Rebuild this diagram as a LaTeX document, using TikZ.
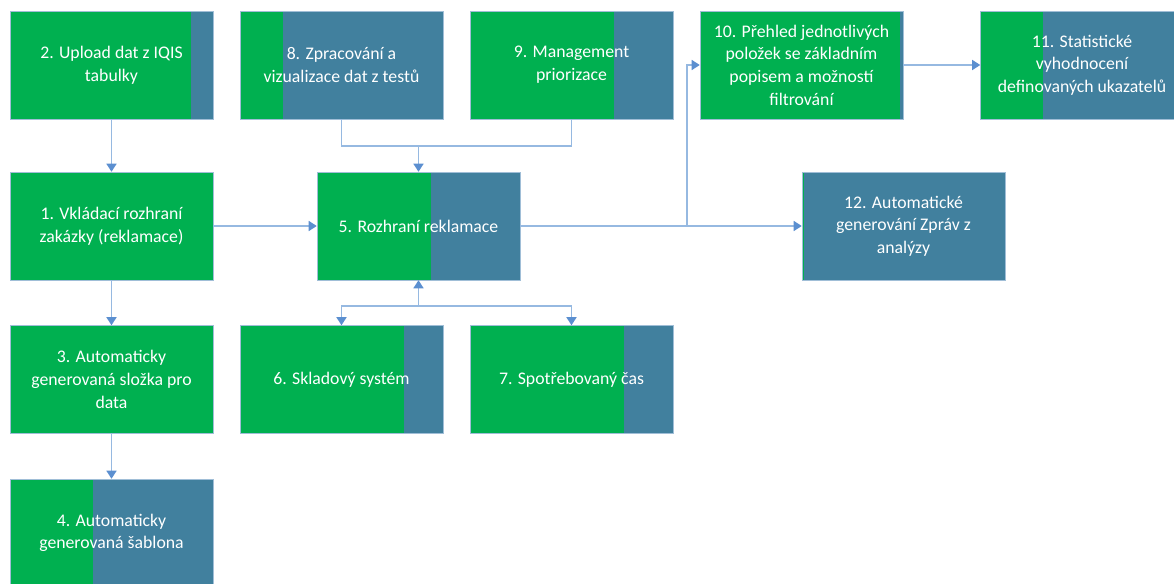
\documentclass[tikz,border=0pt]{standalone}
\usepackage{fontspec}
\setmainfont{Carlito}
\usetikzlibrary{arrows.meta,calc}

\definecolor{donegreen}{RGB}{0,176,80}
\definecolor{todoblue}{RGB}{65,128,158}
\definecolor{edgeblue}{RGB}{160,190,215}
\definecolor{linkblue}{RGB}{150,185,225}
\definecolor{tipblue}{RGB}{91,143,208}

\newcommand{\boxfont}{\fontsize{13.3}{17}\selectfont}

\begin{document}
\begin{tikzpicture}[
    x=0.75pt, y=0.75pt,
    >={Triangle[length=6pt,width=7.5pt,color=tipblue]},
    % box with a green part showing how far the task is done
    task/.style={
      draw=edgeblue, line width=0.4pt, fill=todoblue,
      minimum width=152.25pt, minimum height=81pt, inner sep=0pt,
      text=white, align=center, font=\boxfont,
      path picture={
        \fill[donegreen] (path picture bounding box.south west) rectangle
          ($(path picture bounding box.north west)!#1!(path picture bounding box.north east)$);
      }
    },
    link/.style={draw=linkblue, line width=1.1pt},
    flow/.style={link, ->}
  ]
    \useasboundingbox (0,0) rectangle (1174,583);

    % Top row ------------------------------------------------------
    \node[task=0.89] (upload)   at (111.5,518) {2. Upload dat z IQIS\\tabulky};
    \node[task=0.21] (tests)    at (341.5,518) {8. Zpracování a\\vizualizace dat z testů};
    \node[task=0.71] (priority) at (571.5,518) {9. Management\\priorizace};
    \node[task=0.985] (overview) at (801.5,518)
      {10. Přehled jednotlivých\\položek se základním\\popisem a možností\\filtrování};
    \node[task=0.31] (stats)    at (1082,518)
      {11. Statistické\\vyhodnocení\\definovaných ukazatelů};

    % Middle row ---------------------------------------------------
    \node[task=1]    (order)   at (111.5,357) {1. Vkládací rozhraní\\zakázky (reklamace)};
    \node[task=0.56] (claim)   at (418.5,357) {5. Rozhraní reklamace};
    \node[task=0.01] (reports) at (903.5,357)
      {12. Automatické\\generování Zpráv z\\analýzy};

    % Lower rows ---------------------------------------------------
    \node[task=1]    (folder)    at (111.5,203.5) {3. Automaticky\\generovaná složka pro\\data};
    \node[task=0.81] (stock)     at (341.5,203.5) {6. Skladový systém};
    \node[task=0.76] (timespent) at (571.5,203.5) {7. Spotřebovaný čas};
    \node[task=0.41] (template)  at (111.5,50) {4. Automaticky\\generovaná šablona};

    % Left column chain
    \draw[flow] (upload) -- (order);
    \draw[flow] (order) -- (folder);
    \draw[flow] (folder) -- (template);
    \draw[flow] (order) -- (claim);

    % Inputs from 8 and 9 into 5
    \coordinate (intake) at (418.5,437);
    \draw[link] (tests.south) |- (intake) -| (priority.south);
    \draw[flow] (intake) -- (claim.north);

    % 5 linked with 6 and 7
    \coordinate (spread) at (418.5,277);
    \draw[flow] (spread) -- (claim.south);
    \draw[flow] (spread) -| (stock.north);
    \draw[flow] (spread) -| (timespent.north);

    % Outputs of 5
    \coordinate (fork) at (687,357);
    \draw[flow] (claim) -- (reports);
    \draw[flow] (fork) |- (overview.west);
    \draw[flow] (overview) -- (stats);

  \end{tikzpicture}
\end{document}
